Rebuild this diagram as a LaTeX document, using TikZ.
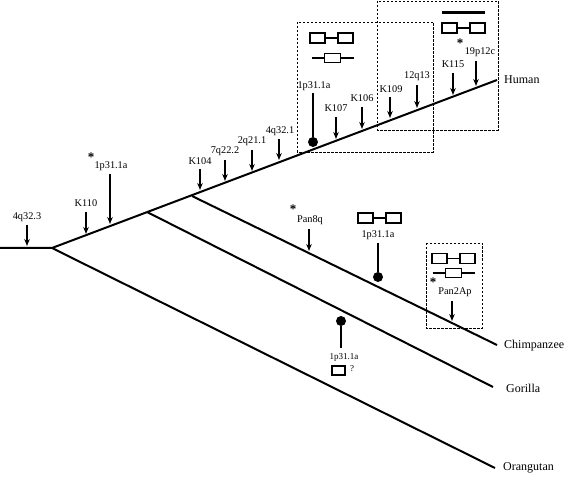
\documentclass[tikz,border=0pt]{standalone}
\usepackage{fontspec}
\setmainfont{Liberation Serif}
\usetikzlibrary{arrows.meta}
\begin{document}
\begin{tikzpicture}[x=1pt,y=-1pt,
  branch/.style={line width=2pt},
  mk/.style={line width=1.2pt,-{Stealth[length=7pt,width=5.5pt]}},
  stalk/.style={line width=1.2pt},
  lab/.style={font=\fontsize{10.3}{12}\selectfont,inner sep=0pt},
  slab/.style={font=\fontsize{9}{11}\selectfont,inner sep=0pt},
  star/.style={font=\fontsize{13}{13}\selectfont\bfseries,inner sep=0pt},
  sp/.style={font=\fontsize{12}{14}\selectfont,inner sep=0pt,anchor=west},
  dbox/.style={line width=0.9pt,dash pattern=on 2.5pt off 1.5pt},
  chrom/.style={line width=1.8pt,fill=white},
  dot/.style={circle,fill=black,inner sep=0pt,minimum size=10pt},
  twobox/.pic={
    \draw[line width=1.8pt] (-6.5,0) -- (6.5,0);
    \draw[chrom] (-21.5,-5) rectangle (-6.5,5);
    \draw[chrom] (6.5,-5) rectangle (21.5,5);},
  barbox/.pic={
    \draw[line width=1.8pt] (-21,0) -- (21,0);
    \draw[chrom] (-8,-4.5) rectangle (8,4.5);}
]
\useasboundingbox (0,0) rectangle (567,478);
% tree
\coordinate (r0) at (0,248);
\coordinate (r) at (52,248);
\coordinate (g0) at (147,212);
\coordinate (c0) at (192,196);
\coordinate (hu) at (497,80);
\coordinate (ch) at (497,345);
\coordinate (go) at (493,387);
\coordinate (or) at (495,468);
\draw[branch] (r0) -- (r) -- (hu);
\draw[branch] (r) -- (or);
\draw[branch] (g0) -- (go);
\draw[branch] (c0) -- (ch);
\node[sp] (Lhu) at (504,80) {Human};
\node[sp] (Lch) at (504,346) {Chimpanzee};
\node[sp] (Lgo) at (506,388) {Gorilla};
\node[sp] (Lor) at (503,468) {Orangutan};
% dashed boxes
\draw[dbox] (297,22) rectangle (433,152);
\draw[dbox] (377,1) rectangle (498,130);
\draw[dbox] (426,243) rectangle (482,328);
% icons
\pic at (331.5,38) {twobox};
\pic at (332.5,58) {barbox};
\draw[line width=3pt] (442,13) -- (485,13);
\pic at (463.5,28) {twobox};
\pic at (379.5,218) {twobox};
\pic at (453.5,258.5) {twobox};
\pic at (453.5,273) {barbox};
\draw[chrom] (332,366) rectangle (345,375);
\node[slab] (q) at (352,369) {?};
% human-line markers
\node[lab] (l1) at (27,217) {4q32.3};
\coordinate (t1) at (27,246);
\draw[mk] (27,225) -- (t1);
\node[lab] (l2) at (86,203) {K110};
\coordinate (t2) at (86,234);
\draw[mk] (86,212) -- (t2);
\node[lab] (l3) at (111,166) {1p31.1a};
\node[star] (s3) at (91,157) {*};
\coordinate (t3) at (110,224);
\draw[mk] (110,174) -- (t3);
\node[lab] (l4) at (200,161) {K104};
\coordinate (t4) at (200,190);
\draw[mk] (200,169) -- (t4);
\node[lab] (l5) at (225,151) {7q22.2};
\coordinate (t5) at (225,181);
\draw[mk] (225,160) -- (t5);
\node[lab] (l6) at (252,141) {2q21.1};
\coordinate (t6) at (252,171);
\draw[mk] (252,150) -- (t6);
\node[lab] (l7) at (280,131) {4q32.1};
\coordinate (t7) at (279,160);
\draw[mk] (279,139) -- (t7);
\node[lab] (l8) at (314,86) {1p31.1a};
\node[dot] (d8) at (313,142) {};
\draw[stalk] (313,93) -- (d8);
\node[lab] (l9) at (336,108) {K107};
\coordinate (t9) at (336,139);
\draw[mk] (336,117) -- (t9);
\node[lab] (l10) at (362,98) {K106};
\coordinate (t10) at (362,129);
\draw[mk] (362,107) -- (t10);
\node[lab] (l11) at (391,89) {K109};
\coordinate (t11) at (390,118);
\draw[mk] (390,97) -- (t11);
\node[lab] (l12) at (417,76) {12q13};
\coordinate (t12) at (417,108);
\draw[mk] (417,85) -- (t12);
\node[lab] (l13) at (453,64) {K115};
\coordinate (t13) at (453,95);
\draw[mk] (453,73) -- (t13);
\node[lab] (l14) at (480,52) {19p12c};
\node[star] (s14) at (460,43) {*};
\coordinate (t14) at (476,86);
\draw[mk] (476,61) -- (t14);
% chimp markers
\node[lab] (l15) at (310,220) {Pan8q};
\node[star] (s15) at (293,209) {*};
\coordinate (t15) at (309,251);
\draw[mk] (309,229) -- (t15);
\node[lab] (l16) at (378,235) {1p31.1a};
\node[dot] (d16) at (378,277) {};
\draw[stalk] (378,243) -- (d16);
\node[lab] (l17) at (455,292) {Pan2Ap};
\node[star] (s17) at (433,282) {*};
\coordinate (t17) at (452,321);
\draw[mk] (452,301) -- (t17);
% gorilla marker
\node[dot] (d18) at (341,321) {};
\node[slab] (l18) at (344,357) {1p31.1a};
\draw[stalk] (d18) -- (341,348);
\end{tikzpicture}
\end{document}
